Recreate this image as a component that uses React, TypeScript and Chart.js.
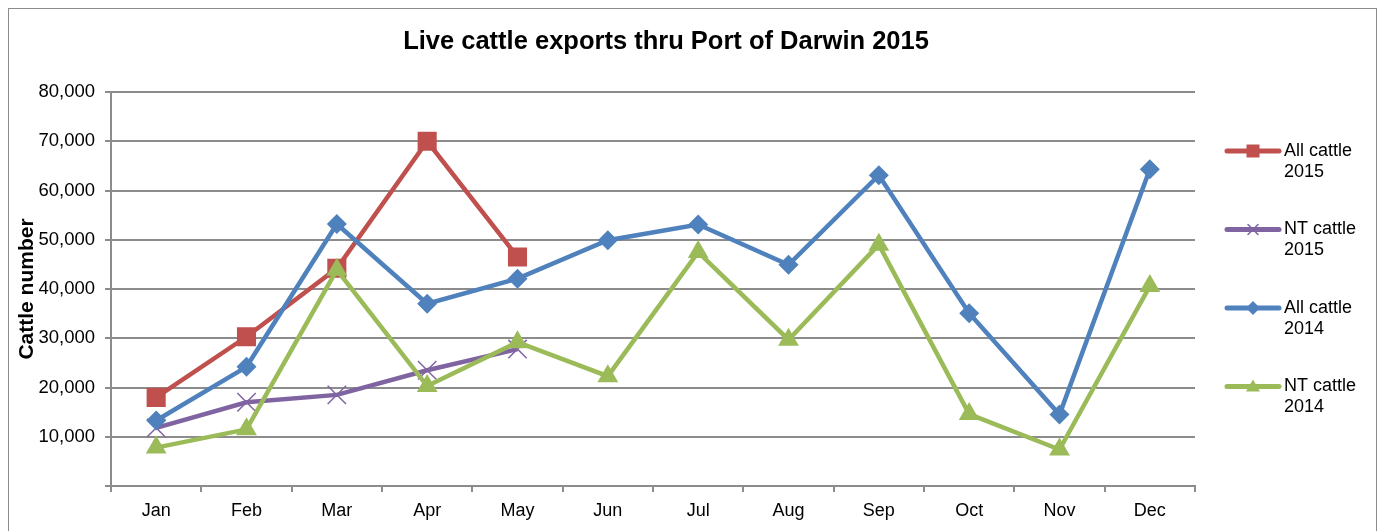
import React, { useEffect, useRef } from 'react';
import { Chart, registerables } from 'chart.js';

Chart.register(...registerables);

const chartTitle = 'Live cattle exports thru Port of Darwin 2015';
const yAxisTitle = 'Cattle number';
const months = ['Jan', 'Feb', 'Mar', 'Apr', 'May', 'Jun', 'Jul', 'Aug', 'Sep', 'Oct', 'Nov', 'Dec'];
const seriesNames = ['All cattle 2015', 'NT cattle 2015', 'All cattle 2014', 'NT cattle 2014'];
const allCattle2015 = [18000, 30300, 44200, 70000, 46500];
const ntCattle2015 = [11800, 17000, 18500, 23500, 27800];
const allCattle2014 = [13300, 24200, 53200, 37000, 42100, 49900, 53100, 44900, 63100, 35100, 14500, 64300];
const ntCattle2014 = [7800, 11500, 43900, 20300, 29200, 22300, 47500, 29700, 49000, 14600, 7400, 40600];
const yMin = 0;
const yMax = 80000;
const yStep = 10000;

const colors = ['#C0504D', '#8064A2', '#4F81BD', '#9BBB59'];
const FONT = '"Liberation Sans", Arial, sans-serif';

function drawMarker(ctx: CanvasRenderingContext2D, style: string, x: number, y: number, r: number, color: string) {
  ctx.save();
  ctx.fillStyle = color;
  ctx.strokeStyle = color;
  ctx.beginPath();
  if (style === 'rect') {
    ctx.rect(x - r, y - r, 2 * r, 2 * r);
    ctx.fill();
  } else if (style === 'rectRot') {
    ctx.moveTo(x, y - r);
    ctx.lineTo(x + r, y);
    ctx.lineTo(x, y + r);
    ctx.lineTo(x - r, y);
    ctx.closePath();
    ctx.fill();
  } else if (style === 'triangle') {
    ctx.moveTo(x, y - r);
    ctx.lineTo(x + r, y + r * 0.7);
    ctx.lineTo(x - r, y + r * 0.7);
    ctx.closePath();
    ctx.fill();
  } else if (style === 'crossRot') {
    ctx.lineWidth = 1.5;
    ctx.moveTo(x - r, y - r);
    ctx.lineTo(x + r, y + r);
    ctx.moveTo(x + r, y - r);
    ctx.lineTo(x - r, y + r);
    ctx.stroke();
  }
  ctx.restore();
}

const decorPlugin = {
  id: 'decor',
  beforeDraw(chart: any) {
    const ctx = chart.ctx as CanvasRenderingContext2D;
    ctx.save();
    ctx.fillStyle = '#ffffff';
    ctx.fillRect(0, 0, chart.width, chart.height);
    ctx.strokeStyle = '#8c8c8c';
    ctx.lineWidth = 1;
    ctx.strokeRect(8.5, 8.5, 1368, 600);
    ctx.restore();
  },
  afterDraw(chart: any) {
    const ctx = chart.ctx as CanvasRenderingContext2D;
    ctx.save();
    ctx.fillStyle = '#000000';
    ctx.font = 'bold 25.5px ' + FONT;
    ctx.textAlign = 'center';
    ctx.textBaseline = 'middle';
    ctx.fillText(chartTitle, 666, 42);

    const legendMarkers: [string, number][] = [['rect', 6.5], ['crossRot', 5], ['rectRot', 7], ['triangle', 7]];
    chart.data.datasets.forEach((ds: any, i: number) => {
      const y = 151 + i * 78.5;
      ctx.strokeStyle = ds.borderColor;
      ctx.lineWidth = 5;
      ctx.lineCap = 'round';
      ctx.beginPath();
      ctx.moveTo(1227, y);
      ctx.lineTo(1279, y);
      ctx.stroke();
      drawMarker(ctx, legendMarkers[i][0], 1253, y, legendMarkers[i][1], ds.borderColor);
      const label: string = ds.label;
      const cut = label.lastIndexOf(' ');
      ctx.fillStyle = '#000000';
      ctx.font = '18px ' + FONT;
      ctx.textAlign = 'left';
      ctx.textBaseline = 'middle';
      ctx.fillText(label.slice(0, cut), 1284, y);
      ctx.fillText(label.slice(cut + 1), 1284, y + 21);
    });
    ctx.restore();
  },
};

export default function App() {
  const canvasRef = useRef<HTMLCanvasElement | null>(null);

  useEffect(() => {
    const canvas = canvasRef.current;
    if (!canvas) return;
    const chart = new Chart(canvas, {
      type: 'line',
      data: {
        labels: months,
        datasets: [
          {
            label: seriesNames[0],
            data: allCattle2015,
            borderColor: colors[0],
            backgroundColor: colors[0],
            borderWidth: 4.5,
            pointStyle: 'rect',
            pointRadius: 13.5,
            pointBorderWidth: 0,
            pointBackgroundColor: colors[0],
            order: 4,
          },
          {
            label: seriesNames[1],
            data: ntCattle2015,
            borderColor: colors[1],
            backgroundColor: colors[1],
            borderWidth: 4.5,
            pointStyle: 'crossRot',
            pointRadius: 13,
            pointBorderWidth: 1.5,
            pointBorderColor: colors[1],
            order: 3,
          },
          {
            label: seriesNames[2],
            data: allCattle2014,
            borderColor: colors[2],
            backgroundColor: colors[2],
            borderWidth: 4.5,
            pointStyle: 'rectRot',
            pointRadius: 10,
            pointBorderWidth: 0,
            pointBackgroundColor: colors[2],
            order: 2,
          },
          {
            label: seriesNames[3],
            data: ntCattle2014,
            borderColor: colors[3],
            backgroundColor: colors[3],
            borderWidth: 4.5,
            pointStyle: 'triangle',
            pointRadius: 12,
            pointBorderWidth: 0,
            pointBackgroundColor: colors[3],
            order: 1,
          },
        ],
      },
      options: {
        animation: false,
        responsive: false,
        devicePixelRatio: 1,
        layout: { padding: { left: 0, right: 186, top: 92, bottom: 0 } },
        plugins: {
          legend: { display: false },
          title: { display: false },
          tooltip: { enabled: false },
        },
        elements: { line: { tension: 0 } },
        scales: {
          x: {
            offset: true,
            grid: {
              offset: true,
              drawOnChartArea: false,
              drawTicks: true,
              tickLength: 6,
              color: '#8c8c8c',
              lineWidth: 2,
            },
            border: { display: true, color: '#8c8c8c', width: 2 },
            ticks: {
              color: '#000000',
              font: { family: FONT, size: 18 },
              padding: 8,
              maxRotation: 0,
            },
            afterFit: (scale: any) => {
              scale.height = 45;
            },
          },
          y: {
            min: yMin,
            max: yMax,
            grid: {
              color: '#8c8c8c',
              lineWidth: 2,
              tickLength: 6,
              drawTicks: true,
            },
            border: { display: true, color: '#8c8c8c', width: 2 },
            ticks: {
              stepSize: yStep,
              color: '#000000',
              font: { family: FONT, size: 18.5 },
              padding: 10,
              callback: (v: any) => (Number(v) === 0 ? '' : Number(v).toLocaleString('en-US')),
            },
            title: {
              display: true,
              text: yAxisTitle,
              color: '#000000',
              font: { family: FONT, size: 21, weight: 'bold' },
              padding: { top: 15, bottom: 0 },
            },
            afterFit: (scale: any) => {
              scale.width = 111;
            },
          },
        },
      },
      plugins: [decorPlugin],
    } as any);
    return () => chart.destroy();
  }, []);

  return (
    <div style={{ position: 'fixed', left: 0, top: 0, width: 1381, height: 531 }}>
      <canvas ref={canvasRef} width={1381} height={531} style={{ display: 'block' }} />
    </div>
  );
}
